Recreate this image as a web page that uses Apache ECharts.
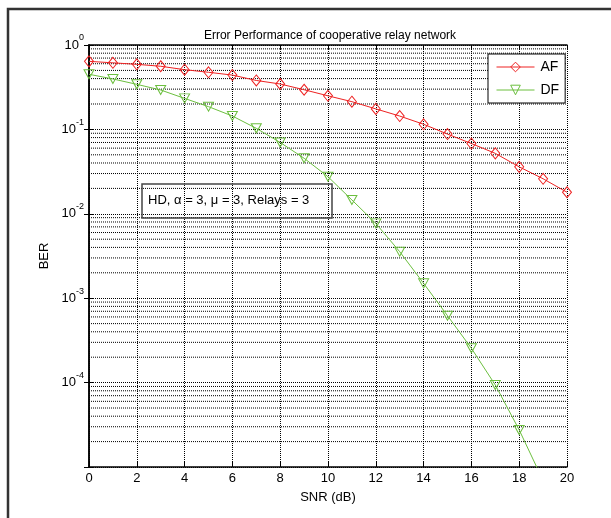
<!DOCTYPE html>
<html>
<head>
<meta charset="utf-8">
<script src="https://cdn.jsdelivr.net/npm/echarts@6/dist/echarts.min.js"></script>
<style>html,body{margin:0;padding:0;background:#fff;}#c{width:611px;height:518px;}</style>
</head>
<body>
<div id="c"></div>
<script>
// ---- data ----
const snr = [0,1,2,3,4,5,6,7,8,9,10,11,12,13,14,15,16,17,18,19,20];
const afBER = [0.64,0.615,0.59,0.56,0.51,0.475,0.44,0.38,0.345,0.295,0.25,0.213,0.175,0.144,0.115,0.088,0.068,0.052,0.036,0.026,0.018];
const dfBER = [0.45,0.396,0.342,0.293,0.233,0.186,0.144,0.103,0.070,0.0455,0.0275,0.0146,0.0077,0.00356,0.0015,0.00062,0.000255,0.0000937,0.0000275,0.0000069];
const seriesNames = ['AF','DF'];
const titleText = 'Error Performance of cooperative relay network';
const noteText = 'HD, \u03b1 = 3, \u03bc = 3, Relays = 3';

// minor log gridlines (2..9 x 10^k)
const minorVals = [];
for (let k = -5; k <= -1; k++) for (let m = 2; m <= 9; m++) minorVals.push(m * Math.pow(10, k));

const FONT = 'Liberation Sans';
const dotted = {color: '#000', width: 1, type: [1, 1]};

const chart = echarts.init(document.getElementById('c'), null, {renderer: 'canvas'});
const pairs = (ys) => ys.map((y, i) => [snr[i], y]);

chart.setOption({
  animation: false,
  backgroundColor: '#fff',
  textStyle: {fontFamily: FONT},
  title: {
    text: titleText, left: 325, top: 25, textAlign: 'center',
    textStyle: {fontFamily: FONT, fontSize: 12, fontWeight: 'normal', color: '#000'}
  },
  grid: {left: 89, top: 45, width: 478, height: 422, containLabel: false},
  legend: {
    data: seriesNames, orient: 'vertical', left: 488, top: 54,
    padding: [6, 6, 6, 8], itemGap: 9, itemWidth: 38, itemHeight: 12,
    borderColor: '#000', borderWidth: 1, backgroundColor: '#fff',
    lineStyle: {width: 1},
    itemStyle: {borderWidth: 1},
    textStyle: {fontFamily: FONT, fontSize: 14, color: '#000', padding: [0, 0, 0, 1]}
  },
  xAxis: [{
    type: 'value', min: 0, max: 20, interval: 2,
    name: 'SNR (dB)', nameLocation: 'middle', nameGap: 24,
    nameTextStyle: {fontFamily: FONT, fontSize: 13, color: '#000'},
    axisLine: {lineStyle: {color: '#000', width: 1.5}},
    axisTick: {inside: true, length: 5, lineStyle: {color: '#000'}},
    axisLabel: {fontFamily: FONT, fontSize: 13, color: '#000', margin: 5},
    splitLine: {show: true, lineStyle: dotted}
  }, {
    type: 'value', min: 0, max: 20, interval: 2, position: 'top',
    axisLine: {lineStyle: {color: '#000', width: 1.5}},
    axisTick: {inside: true, length: 5, lineStyle: {color: '#000'}},
    axisLabel: {show: false}, splitLine: {show: false}
  }],
  yAxis: [{
    type: 'log', logBase: 10, min: 1e-5, max: 1,
    name: 'BER', nameLocation: 'middle', nameGap: 33, nameRotate: 90,
    nameTextStyle: {fontFamily: FONT, fontSize: 13, color: '#000'},
    axisLine: {lineStyle: {color: '#000', width: 1.5}},
    axisTick: {inside: true, length: 5, lineStyle: {color: '#000'}},
    axisLabel: {
      margin: 5, color: '#000',
      formatter: function (v) {
        const e = Math.round(Math.log10(v));
        if (e < -4) return '';
        return '{b|10}{e|' + e + '}';
      },
      rich: {
        b: {fontFamily: FONT, fontSize: 13, color: '#000'},
        e: {fontFamily: FONT, fontSize: 9, color: '#000', padding: [0, 0, 14, 0]}
      }
    },
    splitLine: {show: true, lineStyle: dotted}
  }, {
    type: 'log', logBase: 10, min: 1e-5, max: 1, position: 'right',
    axisLine: {lineStyle: {color: '#000', width: 1.5}},
    axisTick: {inside: true, length: 5, lineStyle: {color: '#000'}},
    axisLabel: {show: false}, splitLine: {show: false}
  }],
  series: [{
    name: 'grid-minor', type: 'custom', silent: true, z: 1,
    data: minorVals.map(v => [v]),
    encode: {y: 0},
    renderItem: function (params, api) {
      const v = api.value(0);
      const p0 = api.coord([0, v]);
      const p1 = api.coord([20, v]);
      return {
        type: 'line',
        shape: {x1: p0[0], y1: p0[1], x2: p1[0], y2: p1[1]},
        style: {stroke: '#000', lineWidth: 1, lineDash: [1, 1]}
      };
    }
  }, {
    name: seriesNames[0], type: 'line', data: pairs(afBER), z: 3, clip: true,
    symbol: 'diamond', symbolSize: [9, 11],
    lineStyle: {color: '#ee2222', width: 1},
    itemStyle: {color: 'rgba(255,255,255,0)', borderColor: '#ee2222', borderWidth: 1}
  }, {
    name: seriesNames[1], type: 'line', data: pairs(dfBER), z: 3, clip: true,
    symbol: 'triangle', symbolRotate: 180, symbolSize: [10, 9],
    lineStyle: {color: '#6cbf3f', width: 1},
    itemStyle: {color: 'rgba(255,255,255,0)', borderColor: '#6cbf3f', borderWidth: 1}
  }],
  graphic: [
    {type: 'polyline', shape: {points: [[8, 518], [8, 9], [611, 9]]},
     style: {stroke: '#333', lineWidth: 2.5, fill: null}, z: 10},
    {type: 'rect', shape: {x: 142, y: 184, width: 190, height: 34},
     style: {stroke: '#444', lineWidth: 1.5, fill: null}, z: 10},
    {type: 'text', left: 148, top: 194,
     style: {text: noteText, font: '13px "Liberation Sans"', fill: '#000'}, z: 10}
  ]
});
</script>
</body>
</html>
